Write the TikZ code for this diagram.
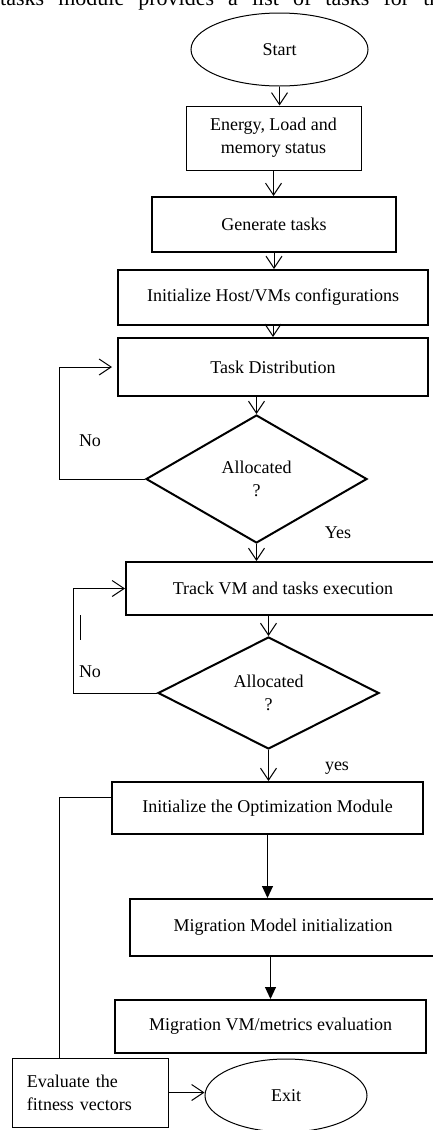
\documentclass[tikz,border=0pt]{standalone}
\usepackage{fontspec}
\setmainfont{Liberation Serif}
\usepackage{tikz}
\usetikzlibrary{arrows.meta, shapes.geometric, calc}

\begin{document}
\begin{tikzpicture}[x=1pt, y=-1pt,
    every node/.style={font=\fontsize{18}{23}\selectfont},
    terminal/.style={ellipse, draw, line width=1pt, minimum width=#1, minimum height=73pt, inner sep=0pt},
    thinbox/.style={rectangle, draw, line width=1pt, align=center},
    procbox/.style={rectangle, draw, line width=2pt, inner sep=0pt},
    decision/.style={diamond, draw, line width=2pt, align=center, inner sep=0pt, aspect=1.7, minimum width=221pt, minimum height=#1},
    openarr/.style={line width=1pt, -{Straight Barb[length=12pt, width=16pt]}},
    fillarr/.style={line width=1pt, -{Triangle[length=12pt, width=11pt]}},
]
\useasboundingbox (0,0) rectangle (433,1130);

% line of body text cut by the top edge
\node[anchor=base west, inner sep=0pt] (topline) at (0,5) {\fontsize{22}{26}\selectfont\makebox[450pt][s]{tasks module provides a list of tasks for the}};

\node[terminal=177pt] (start) at (279.5,49.5) {Start};
\node[thinbox, minimum width=175pt, minimum height=64pt] (energy) at (273.5,138) {Energy, Load and\\memory status};
\node[procbox, minimum width=244pt, minimum height=55pt] (gen) at (274,224.5) {Generate tasks};
\node[procbox, minimum width=310pt, minimum height=55pt] (hostinit) at (273,297.5) {Initialize Host/VMs configurations};
\node[procbox, minimum width=310pt, minimum height=58pt] (taskdist) at (273,367) {Task Distribution};
\node[decision=128pt] (alloc1) at (256.5,479) {Allocated\\?};
\node[procbox, minimum width=314pt, minimum height=53pt] (track) at (283,588.5) {Track VM and tasks execution};
\node[decision=112pt] (alloc2) at (268.5,693) {Allocated\\?};
\node[procbox, minimum width=311pt, minimum height=52pt] (optinit) at (267.5,808) {Initialize the Optimization Module};
\node[procbox, minimum width=306pt, minimum height=57pt] (migmodel) at (283,927.5) {Migration Model initialization};
\node[procbox, minimum width=311pt, minimum height=53pt] (migvm) at (270.5,1026.5) {Migration VM/metrics evaluation};
\node[thinbox, align=left, text width=126pt, inner xsep=15pt, minimum height=69pt] (fitness) at (90,1092.5) {Evaluate the\\fitness vectors};
\node[terminal=162pt] (exit) at (286,1095.5) {Exit};

\node (no1) at (90,441) {No};
\node (yes1) at (338,533) {Yes};
\node (no2) at (90,672) {No};
\node (yes2) at (337,768) {yes};

\coordinate (lx1) at (59,0);
\coordinate (lx2) at (73,0);

\draw[openarr] (start.south) -- (start.south |- energy.north);
\draw[openarr] (energy.south) -- (energy.south |- gen.north);
\draw[openarr] (gen.south) -- (gen.south |- hostinit.north);
\draw[openarr] (hostinit.south) -- (hostinit.south |- taskdist.north);
\draw[openarr] (alloc1.north |- taskdist.south) -- (alloc1.north);
\draw[openarr] (alloc1.south) -- (alloc1.south |- track.north);
\draw[openarr] (alloc2.north |- track.south) -- (alloc2.north);
\draw[openarr] (alloc2.south) -- (alloc2.south |- optinit.north);
\draw[fillarr] (optinit.south) -- (optinit.south |- migmodel.north);
\draw[fillarr] (migvm.north |- migmodel.south) -- (migvm.north);

% back loops
\draw[openarr, shorten >=5pt] (alloc1.west) -- (alloc1.west -| lx1) |- (taskdist.west);
\draw[openarr] (alloc2.west) -- (alloc2.west -| lx2) |- (track.west);
\draw[line width=1pt] ([yshift=11pt]optinit.west) -| (lx1 |- fitness.north);
\draw[openarr] (fitness.east) -- (fitness.east -| exit.west);

\draw[line width=1pt] (80,615) -- (80,640);

\end{tikzpicture}
\end{document}
